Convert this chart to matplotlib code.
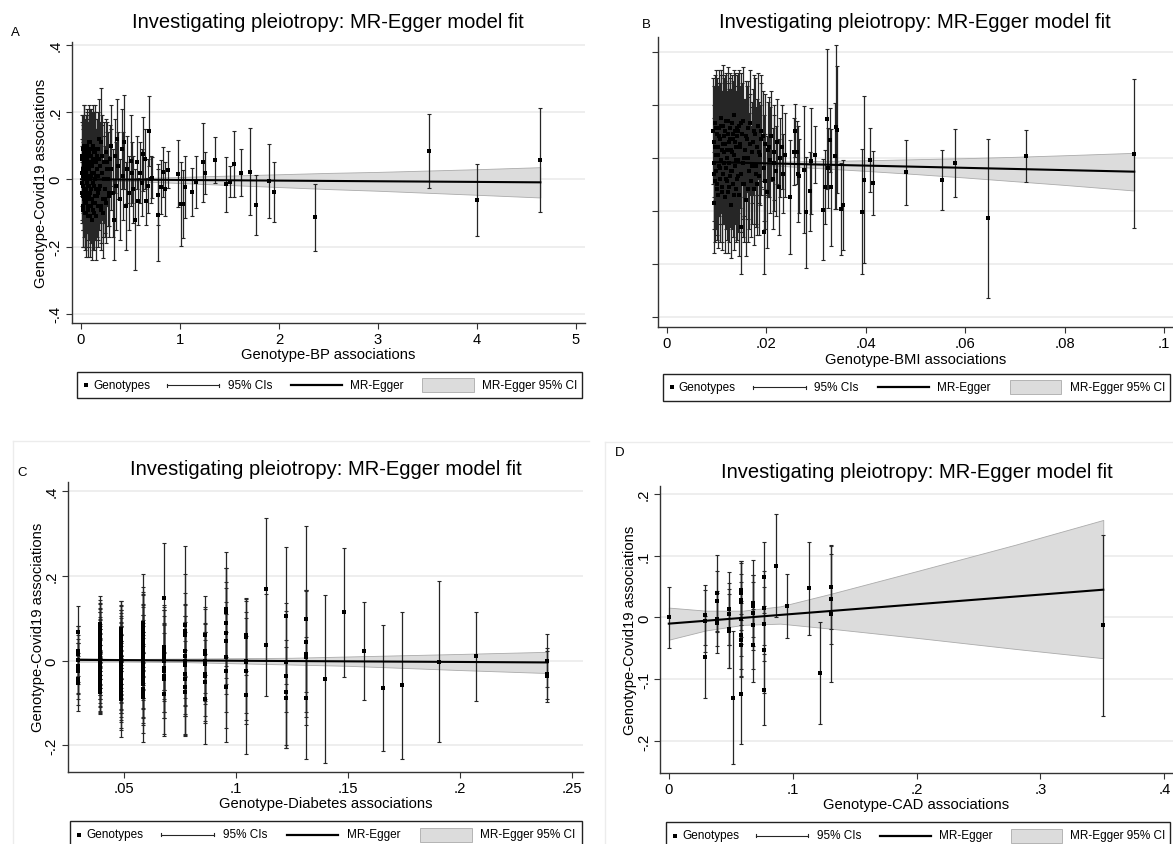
import matplotlib
matplotlib.use('Agg')
import matplotlib.pyplot as plt
from matplotlib.lines import Line2D
from matplotlib.patches import Rectangle

plt.rcParams['font.family'] = ['Liberation Sans', 'DejaVu Sans']

# ---------------- data ----------------
TITLE = "Investigating pleiotropy: MR-Egger model fit"
YLABEL = "Genotype-Covid19 associations"

# Panel A: Genotype-BP associations
bp_x = [0.010,0.012,0.015,0.018,0.020,0.022,0.025,0.028,0.030,0.032,
        0.035,0.038,0.040,0.043,0.046,0.048,0.050,0.053,0.056,0.058,
        0.060,0.063,0.066,0.068,0.070,0.073,0.076,0.079,0.082,0.085,
        0.088,0.090,0.093,0.096,0.099,0.102,0.105,0.108,0.111,0.114,
        0.117,0.120,0.124,0.127,0.130,0.134,0.137,0.140,0.144,0.148,
        0.152,0.155,0.159,0.163,0.167,0.171,0.175,0.180,0.185,0.190,
        0.195,0.200,0.206,0.212,0.218,0.225,0.232,0.240,0.248,0.256,
        0.265,0.275,0.285,0.296,0.308,0.320,0.330,0.342,0.355,0.364,
        0.378,0.392,0.410,0.425,0.434,0.450,0.468,0.485,0.500,0.512,
        0.530,0.550,0.565,0.580,0.600,0.615,0.626,0.645,0.660,0.675,
        0.690,0.705,0.720,
        0.778,0.780,0.811,0.832,0.845,0.879,0.980,1.014,1.034,1.054,
        1.125,1.165,1.232,1.253,1.357,1.465,1.508,1.542,1.612,1.710,
        1.768,1.895,1.950,2.360,3.520,4.000,4.640,
        0.011,0.014,0.017,0.021,0.024,0.027,0.031,0.034,0.037,0.041,
        0.045,0.049,0.052,0.055,0.059,0.062,0.065,0.069,0.072,0.075,
        0.078,0.081,0.084,0.087,0.091,0.094,0.098,0.101,0.106,0.110,
        0.115,0.119,0.123,0.128,0.133,0.138,0.143,0.150,0.157,0.165,
        0.173,0.183,0.193,0.204,0.215,0.228,0.244,0.260,0.280,0.300]
bp_y = [0.02,-0.04,0.06,-0.08,0.01,0.09,-0.02,0.04,0.08,-0.06,
        0.00,0.05,-0.10,0.03,-0.03,0.07,-0.07,0.02,0.10,-0.01,
        -0.05,0.06,-0.09,0.00,0.04,-0.11,0.08,-0.02,0.03,-0.06,
        0.05,-0.04,0.11,-0.08,0.01,0.07,-0.03,-0.12,0.04,0.09,
        -0.01,-0.07,0.06,0.02,-0.10,0.08,-0.05,0.09,0.00,-0.03,
        0.05,-0.11,0.03,0.07,-0.08,0.01,-0.04,0.06,0.12,-0.02,
        0.04,0.11,-0.09,0.02,-0.06,-0.10,0.05,-0.03,0.08,-0.07,
        0.03,0.00,-0.05,0.06,0.10,-0.04,-0.12,0.07,-0.02,0.12,
        0.04,-0.06,0.09,0.01,0.11,-0.08,0.03,-0.04,0.055,0.02,
        -0.03,-0.12,0.05,-0.065,0.02,-0.01,0.075,0.06,-0.065,-0.02,
        0.144,0.00,0.005,
        -0.105,-0.046,-0.024,0.021,-0.029,0.029,0.017,-0.073,-0.073,-0.024,
        -0.037,-0.009,0.050,0.019,0.057,-0.015,-0.007,0.045,0.019,0.023,
        -0.076,-0.005,-0.038,-0.113,0.085,-0.061,0.058,
        -0.01,0.07,-0.05,0.03,-0.09,0.10,-0.03,0.05,-0.07,0.02,
        0.08,-0.04,0.06,-0.10,0.01,-0.06,0.09,-0.02,0.05,-0.08,
        0.03,0.11,-0.05,0.00,0.07,-0.11,0.04,-0.03,0.09,-0.06,
        0.02,0.10,-0.09,0.05,-0.02,0.08,-0.07,0.01,0.06,-0.05,
        0.09,-0.03,0.04,-0.08,0.07,0.00,-0.06,0.05,-0.04,0.03]
bp_half = [0.10,0.09,0.11,0.12,0.14,0.10,0.13,0.09,0.14,0.11,
           0.12,0.10,0.11,0.13,0.09,0.12,0.13,0.10,0.11,0.12,
           0.10,0.13,0.11,0.09,0.12,0.12,0.10,0.14,0.11,0.10,
           0.12,0.13,0.10,0.11,0.14,0.12,0.10,0.12,0.13,0.11,
           0.12,0.14,0.10,0.13,0.11,0.12,0.13,0.13,0.14,0.12,
           0.10,0.13,0.12,0.11,0.12,0.13,0.14,0.10,0.12,0.11,
           0.13,0.16,0.12,0.14,0.11,0.135,0.12,0.13,0.10,0.12,
           0.11,0.14,0.12,0.10,0.12,0.13,0.12,0.11,0.13,0.12,
           0.10,0.12,0.12,0.13,0.14,0.13,0.10,0.11,0.135,0.09,
           0.10,0.15,0.08,0.07,0.09,0.10,0.11,0.09,0.07,0.08,
           0.104,0.07,0.06,
           0.137,0.09,0.08,0.075,0.08,0.055,0.10,0.125,0.10,0.092,
           0.072,0.077,0.118,0.062,0.068,0.082,0.047,0.098,0.07,0.129,
           0.09,0.111,0.09,0.10,0.11,0.106,0.155,
           0.11,0.12,0.10,0.13,0.11,0.12,0.10,0.12,0.13,0.11,
           0.10,0.12,0.11,0.13,0.12,0.10,0.11,0.13,0.12,0.10,
           0.12,0.11,0.13,0.12,0.10,0.12,0.11,0.13,0.12,0.11,
           0.13,0.12,0.11,0.10,0.13,0.12,0.11,0.13,0.12,0.12,
           0.11,0.12,0.13,0.11,0.12,0.13,0.11,0.12,0.10,0.12]
bp_fit_x = [0.0, 4.64]
bp_fit_y = [0.0, -0.009]
bp_band_x = [0.0, 0.5, 1.0, 1.5, 2.0, 2.5, 3.0, 3.5, 4.0, 4.64]
bp_band_hi = [0.005, 0.003, 0.007, 0.011, 0.015, 0.019, 0.022, 0.026, 0.030, 0.036]
bp_band_lo = [-0.005, -0.005, -0.011, -0.017, -0.023, -0.029, -0.034, -0.040, -0.046, -0.054]

# Panel B: Genotype-BMI associations
bmi_x = [0.0093,0.0094,0.0095,0.0095,0.0096,0.0097,0.0098,0.0099,0.0100,0.0101,
         0.0102,0.0103,0.0104,0.0105,0.0106,0.0107,0.0108,0.0109,0.0110,0.0111,
         0.0112,0.0113,0.0114,0.0115,0.0116,0.0117,0.0118,0.0119,0.0120,0.0121,
         0.0122,0.0123,0.0124,0.0125,0.0126,0.0127,0.0128,0.0129,0.0130,0.0131,
         0.0132,0.0133,0.0134,0.0135,0.0136,0.0137,0.0138,0.0139,0.0140,0.0141,
         0.0142,0.0143,0.0144,0.0145,0.0146,0.0148,0.0149,0.0150,0.0152,0.0153,
         0.0155,0.0157,0.0158,0.0160,0.0162,0.0163,0.0165,0.0167,0.0169,0.0171,
         0.0173,0.0175,0.0177,0.0179,0.0181,0.0182,0.0184,0.0186,0.0188,0.0190,
         0.0193,0.0195,0.0196,0.0198,0.0201,0.0204,0.0207,0.0210,0.0213,0.0216,
         0.0219,0.0222,0.0225,0.0228,0.0231,0.0234,0.0237,
         0.0248,0.0256,0.0258,0.0262,0.0264,0.0266,0.0276,0.0279,0.0288,0.0289,
         0.0298,0.0313,0.0317,0.0322,0.0324,0.0327,0.0329,0.0337,0.0340,0.0342,
         0.0351,0.0354,0.0392,0.0396,0.0408,0.0414,0.0480,0.0553,0.0579,0.0645,
         0.0722,0.0940,
         0.0094,0.0096,0.0098,0.0100,0.0102,0.0104,0.0106,0.0108,0.0110,0.0112,
         0.0114,0.0116,0.0118,0.0120,0.0122,0.0124,0.0126,0.0128,0.0130,0.0132,
         0.0134,0.0136,0.0138,0.0140,0.0143,0.0146,0.0149,0.0152,0.0155,0.0159,
         0.0163,0.0167,0.0171,0.0175,0.0180,0.0185,0.0190,0.0197,0.0205,0.0215]
bmi_y = [0.10,-0.02,-0.17,0.06,-0.09,0.13,0.01,-0.05,0.09,-0.12,
         0.04,-0.14,0.11,-0.03,0.07,-0.08,0.15,-0.01,0.03,-0.11,
         0.12,-0.06,0.08,0.02,-0.15,0.05,-0.04,0.14,-0.09,0.00,
         0.09,-0.13,0.06,-0.02,0.11,-0.07,0.03,-0.18,0.13,-0.05,
         0.07,-0.10,0.01,0.16,-0.03,0.10,-0.12,0.04,-0.08,0.08,
         0.10,-0.01,0.12,-0.14,0.05,-0.26,-0.06,0.09,-0.02,0.14,
         -0.10,0.03,-0.16,0.07,0.00,0.11,-0.05,0.13,-0.09,0.02,
         0.06,-0.12,0.09,-0.03,0.04,-0.10,0.12,-0.07,0.01,0.10,
         0.08,-0.04,-0.28,0.05,-0.13,0.03,-0.01,0.08,-0.08,0.02,
         -0.05,0.06,-0.11,0.00,0.04,-0.06,0.01,
         -0.150,0.023,0.102,0.020,-0.062,-0.070,-0.045,-0.206,-0.127,-0.014,
         0.011,-0.196,-0.112,0.145,-0.039,0.067,-0.112,0.005,0.115,0.106,
         -0.194,-0.179,-0.204,-0.083,-0.010,-0.096,-0.055,-0.085,-0.021,-0.228,
         0.005,0.015,
         -0.06,0.04,0.11,-0.10,0.01,0.08,-0.04,0.12,-0.13,0.05,
         -0.02,0.10,-0.08,0.03,0.14,-0.11,0.07,-0.05,0.02,0.09,
         -0.14,0.06,-0.01,0.11,-0.07,0.04,0.13,-0.10,0.00,0.08,
         -0.12,0.05,-0.03,0.10,-0.06,0.02,0.07,-0.09,0.04,-0.02]
bmi_half = [0.20,0.22,0.19,0.21,0.23,0.18,0.20,0.22,0.21,0.19,
            0.23,0.20,0.22,0.19,0.21,0.24,0.18,0.20,0.22,0.21,
            0.23,0.19,0.22,0.20,0.21,0.24,0.20,0.18,0.22,0.21,
            0.19,0.23,0.20,0.22,0.21,0.19,0.23,0.20,0.18,0.22,
            0.21,0.20,0.23,0.17,0.22,0.22,0.20,0.21,0.23,0.19,
            0.22,0.20,0.21,0.23,0.20,0.18,0.22,0.19,0.21,0.20,
            0.22,0.19,0.21,0.20,0.23,0.18,0.22,0.20,0.21,0.19,
            0.20,0.21,0.21,0.22,0.18,0.19,0.20,0.22,0.19,0.21,
            0.17,0.20,0.16,0.19,0.21,0.18,0.20,0.17,0.19,0.18,
            0.17,0.16,0.18,0.15,0.16,0.15,0.16,
            0.215,0.127,0.10,0.12,0.18,0.14,0.24,0.21,0.15,0.20,
            0.108,0.19,0.14,0.265,0.15,0.12,0.22,0.20,0.31,0.24,
            0.175,0.17,0.235,0.316,0.121,0.12,0.123,0.114,0.129,0.30,
            0.098,0.28,
            0.21,0.20,0.22,0.19,0.23,0.20,0.21,0.19,0.22,0.20,
            0.23,0.21,0.19,0.22,0.20,0.21,0.23,0.19,0.22,0.20,
            0.21,0.19,0.22,0.20,0.21,0.23,0.19,0.20,0.22,0.21,
            0.20,0.19,0.22,0.21,0.20,0.19,0.21,0.18,0.19,0.18]
bmi_fit_x = [0.0093, 0.094]
bmi_fit_y = [-0.017, -0.053]
bmi_band_x = [0.0093, 0.015, 0.02, 0.03, 0.04, 0.05, 0.06, 0.07, 0.08, 0.094]
bmi_band_hi = [-0.009, -0.014, -0.016, -0.013, -0.010, -0.006, -0.002, 0.003, 0.009, 0.018]
bmi_band_lo = [-0.025, -0.024, -0.028, -0.039, -0.050, -0.062, -0.075, -0.089, -0.103, -0.124]

# Panel C: Genotype-Diabetes associations (discrete exposure levels)
diab_levels = [0.0296, 0.0392, 0.0488, 0.0583, 0.0677, 0.0770, 0.0862, 0.0953, 0.1044, 0.1133,
               0.1222, 0.1310, 0.1398, 0.1484, 0.1570, 0.1655, 0.1740, 0.1906, 0.2070, 0.2390]
diab_y = [
    [0.067, 0.023, 0.016, 0.002, -0.012, -0.018, -0.024, -0.043, -0.053],
    [0.087,0.081,0.076,0.070,0.066,0.059,0.055,0.048,0.044,0.037,0.031,0.027,0.020,0.016,0.010,
     0.004,0.000,-0.006,-0.011,-0.016,-0.022,-0.027,-0.033,-0.039,-0.044,-0.050,-0.056,-0.061,-0.068,-0.075],
    [0.075,0.070,0.064,0.058,0.052,0.047,0.041,0.035,0.030,0.024,0.018,0.013,0.007,0.002,-0.004,
     -0.010,-0.015,-0.021,-0.027,-0.032,-0.038,-0.044,-0.050,-0.055,-0.061,-0.067,-0.072,-0.078,-0.085,-0.090],
    [0.090,0.084,0.078,0.070,0.062,0.055,0.046,0.037,0.028,0.020,0.012,0.004,-0.004,-0.012,-0.021,
     -0.030,-0.038,-0.047,-0.056,-0.066,-0.076,-0.086],
    [0.149,0.032,0.025,0.016,0.008,0.000,-0.016,-0.025,-0.035,-0.043,-0.079],
    [0.085,0.070,0.061,0.023,0.012,0.000,-0.010,-0.031,-0.043,-0.063,-0.075],
    [0.060,0.023,0.016,0.000,-0.008,-0.031,-0.037,-0.050,-0.091],
    [0.122,0.114,0.089,0.065,0.047,0.008,-0.024,-0.063],
    [0.061,0.057,0.000,-0.004,-0.024,-0.081],
    [0.169,0.037],
    [0.106,-0.002,-0.035,-0.075,-0.087],
    [0.098,0.045,0.016,0.008,-0.087],
    [-0.043],
    [0.114],
    [0.023],
    [-0.065],
    [-0.058],
    [-0.002],
    [0.010],
    [0.000,-0.031,-0.037],
]
diab_half = [
    [0.063, 0.060, 0.066, 0.058, 0.064, 0.060, 0.066, 0.062, 0.065],
    [0.066,0.062,0.060,0.064,0.058,0.063,0.061,0.066,0.059,0.062,0.065,0.060,0.063,0.058,0.066,
     0.061,0.064,0.059,0.062,0.065,0.060,0.063,0.058,0.061,0.064,0.060,0.062,0.059,0.056,0.051],
    [0.065,0.070,0.066,0.074,0.068,0.072,0.065,0.078,0.070,0.066,0.074,0.069,0.072,0.080,0.067,
     0.071,0.075,0.068,0.073,0.066,0.079,0.070,0.074,0.068,0.072,0.077,0.069,0.085,0.075,0.090],
    [0.115,0.090,0.080,0.085,0.100,0.078,0.082,0.095,0.080,0.088,0.078,0.092,0.085,0.080,0.090,
     0.083,0.098,0.086,0.090,0.085,0.095,0.107],
    [0.129,0.100,0.095,0.110,0.098,0.120,0.105,0.110,0.100,0.130,0.098],
    [0.120,0.200,0.100,0.110,0.120,0.105,0.115,0.100,0.134,0.110,0.100],
    [0.093,0.100,0.110,0.090,0.095,0.100,0.105,0.098,0.106],
    [0.135,0.105,0.130,0.120,0.125,0.130,0.135,0.130],
    [0.085,0.090,0.140,0.120,0.125,0.139],
    [0.167,0.120],
    [0.162,0.120,0.172,0.125,0.120],
    [0.219,0.120,0.150,0.160,0.144],
    [0.199],
    [0.153],
    [0.115],
    [0.149],
    [0.173],
    [0.191],
    [0.105],
    [0.063,0.060,0.061],
]
diab_fit_x = [0.0296, 0.239]
diab_fit_y = [0.002, -0.004]
diab_band_x = [0.0296, 0.05, 0.075, 0.1, 0.125, 0.15, 0.175, 0.2, 0.239]
diab_band_hi = [0.006, 0.004, 0.005, 0.006, 0.007, 0.010, 0.013, 0.016, 0.021]
diab_band_lo = [-0.002, -0.002, -0.003, -0.006, -0.009, -0.012, -0.017, -0.022, -0.029]

# Panel D: Genotype-CAD associations
cad_levels = [0.0, 0.0296, 0.0392, 0.0488, 0.0517, 0.0583, 0.0677, 0.0770, 0.0862, 0.0953,
              0.1133, 0.1222, 0.1310, 0.3507]
cad_y = [[0.0], [0.004, -0.006, -0.064], [0.040, 0.026, -0.002, -0.009],
         [0.014, 0.006, -0.018, -0.022], [-0.130],
         [0.044, 0.039, 0.028, 0.025, -0.002, -0.029, -0.037, -0.045, -0.124],
         [0.023, 0.019, 0.008, -0.013, -0.045], [0.065, 0.016, -0.011, -0.052, -0.117],
         [0.084], [0.018], [0.047], [-0.090], [0.050, 0.030, 0.006], [-0.013]]
cad_half = [[0.0495], [0.049, 0.050, 0.067], [0.062, 0.050, 0.045, 0.049],
            [0.059, 0.050, 0.064, 0.060], [0.108],
            [0.048, 0.052, 0.060, 0.045, 0.060, 0.055, 0.060, 0.050, 0.081],
            [0.070, 0.050, 0.060, 0.070, 0.059], [0.057, 0.060, 0.060, 0.070, 0.057],
            [0.083], [0.052], [0.075], [0.082], [0.068, 0.073, 0.110], [0.146]]
cad_fit_x = [0.0, 0.3507]
cad_fit_y = [-0.010, 0.045]
cad_band_x = [0.0, 0.03, 0.06, 0.09, 0.13, 0.2, 0.28, 0.3507]
cad_band_hi = [0.016, 0.011, 0.011, 0.018, 0.038, 0.075, 0.118, 0.158]
cad_band_lo = [-0.036, -0.021, -0.012, -0.010, -0.018, -0.033, -0.051, -0.066]


def flatten(levels, ys, hs):
    fx_, fy_, fh_ = [], [], []
    for lv, yy, hh in zip(levels, ys, hs):
        for a, b in zip(yy, hh):
            fx_.append(lv); fy_.append(a); fh_.append(b)
    return fx_, fy_, fh_

diab_x, diab_yf, diab_hf = flatten(diab_levels, diab_y, diab_half)
cad_x, cad_yf, cad_hf = flatten(cad_levels, cad_y, cad_half)

# ---------------- figure ----------------
W, H = 1173, 845
fig = plt.figure(figsize=(W / 100, H / 100), dpi=100)
fig.patch.set_facecolor('white')


def fxp(px):
    return px / W


def fyp(py):
    return 1 - py / H


def make_ax(l, t, r, b):
    return fig.add_axes([fxp(l), fyp(b), (r - l) / W, (b - t) / H])


AX = '#333333'


def panel(ax, xs, ys, hs, fit_x, fit_y, bx, blo, bhi, xlim, ylim,
          xticks, xtl, yticks, ytl, xlabel, ylabel):
    ax.set_xlim(*xlim)
    ax.set_ylim(*ylim)
    for yt in yticks:
        ax.axhline(yt, color='#e9e9e9', lw=1.1, zorder=0)
    ax.fill_between(bx, blo, bhi, facecolor='#dcdcdc', edgecolor='#ababab',
                    lw=0.6, zorder=1)
    ax.errorbar(xs, ys, yerr=hs, fmt='none', ecolor='#262626', elinewidth=0.9,
                capsize=1.6, capthick=0.8, zorder=2)
    ax.plot(xs, ys, 's', color='black', ms=2.9, mew=0, zorder=3)
    ax.plot(fit_x, fit_y, color='black', lw=1.5, zorder=4)
    for s in ['top', 'right']:
        ax.spines[s].set_visible(False)
    for s in ['left', 'bottom']:
        ax.spines[s].set_color(AX)
        ax.spines[s].set_linewidth(1.0)
    ax.set_xticks(xticks)
    ax.set_xticklabels(xtl, fontsize=10.6)
    ax.set_yticks(yticks)
    ax.set_yticklabels(ytl, fontsize=10.6, rotation=90, va='center')
    ax.tick_params(direction='out', length=4, width=0.8, color=AX, pad=2.5)
    ax.set_xlabel(xlabel, fontsize=10.6, labelpad=1)
    if ylabel:
        ax.set_ylabel(ylabel, fontsize=10.6, labelpad=0)
    ax.set_facecolor('white')


def legend(l, t, r, b):
    w = r - l
    cy = (t + b) / 2
    tr = fig.transFigure
    fig.add_artist(Rectangle((fxp(l), fyp(b)), w / W, (b - t) / H, transform=tr,
                             facecolor='white', edgecolor='#222222', lw=1.0, zorder=5))
    fig.add_artist(Line2D([fxp(l + 0.018 * w)], [fyp(cy)], marker='s', ms=2.9, mew=0,
                          color='black', ls='none', transform=tr, zorder=6))
    fig.text(fxp(l + 0.032 * w), fyp(cy), 'Genotypes', ha='left', va='center', fontsize=8.5, zorder=6)
    x1, x2 = l + 0.179 * w, l + 0.282 * w
    fig.add_artist(Line2D([fxp(x1), fxp(x2)], [fyp(cy)] * 2, color='#262626', lw=0.8,
                          transform=tr, zorder=6))
    for xx in (x1, x2):
        fig.add_artist(Line2D([fxp(xx), fxp(xx)], [fyp(cy - 1.5), fyp(cy + 1.5)], color='#262626',
                              lw=0.8, transform=tr, zorder=6))
    fig.text(fxp(l + 0.299 * w), fyp(cy), '95% CIs', ha='left', va='center', fontsize=8.5, zorder=6)
    fig.add_artist(Line2D([fxp(l + 0.424 * w), fxp(l + 0.525 * w)], [fyp(cy)] * 2, color='black',
                          lw=1.6, transform=tr, zorder=6))
    fig.text(fxp(l + 0.541 * w), fyp(cy), 'MR-Egger', ha='left', va='center', fontsize=8.5, zorder=6)
    fig.add_artist(Rectangle((fxp(l + 0.684 * w), fyp(cy + 7)), 0.102 * w / W, 14 / H, transform=tr,
                             facecolor='#dcdcdc', edgecolor='#ababab', lw=0.6, zorder=6))
    fig.text(fxp(l + 0.802 * w), fyp(cy), 'MR-Egger 95% CI', ha='left', va='center', fontsize=8.5, zorder=6)


# faint graph-region outlines (panels C and D)
for (x0, y0, x1) in [(13, 442, 589), (605, 443, 1173)]:
    fig.add_artist(Line2D([fxp(x0), fxp(x1)], [fyp(y0)] * 2, color='#ececec', lw=1.0,
                          transform=fig.transFigure))
    fig.add_artist(Line2D([fxp(x0), fxp(x0)], [fyp(y0), fyp(845)], color='#ececec', lw=1.0,
                          transform=fig.transFigure))

# Panel A
axA = make_ax(71.5, 43, 585, 324)
panel(axA, bp_x, bp_y, bp_half, bp_fit_x, bp_fit_y, bp_band_x, bp_band_lo, bp_band_hi,
      (-0.096, 5.091), (-0.427, 0.408), [0, 1, 2, 3, 4, 5], ['0', '1', '2', '3', '4', '5'],
      [-0.4, -0.2, 0, 0.2, 0.4], ['-.4', '-.2', '0', '.2', '.4'],
      'Genotype-BP associations', YLABEL)
fig.text(fxp(328), fyp(22), TITLE, ha='center', va='center', fontsize=14.5)
fig.text(fxp(15), fyp(33), 'A', ha='center', va='center', fontsize=9.5)
legend(77, 373, 581.5, 399)

# Panel B
axB = make_ax(657.7, 38, 1173, 328.3)
panel(axB, bmi_x, bmi_y, bmi_half, bmi_fit_x, bmi_fit_y, bmi_band_x, bmi_band_lo, bmi_band_hi,
      (-0.00187, 0.1018), (-0.640, 0.455), [0, 0.02, 0.04, 0.06, 0.08, 0.1],
      ['0', '.02', '.04', '.06', '.08', '.1'],
      [-0.6, -0.4, -0.2, 0, 0.2, 0.4], ['', '', '', '', '', ''],
      'Genotype-BMI associations', None)
fig.text(fxp(915), fyp(23), TITLE, ha='center', va='center', fontsize=14.5)
fig.text(fxp(646), fyp(25), 'B', ha='center', va='center', fontsize=9.5)
legend(662.5, 375, 1170, 401.7)

# Panel C
axC = make_ax(67.7, 483, 583.4, 772.7)
panel(axC, diab_x, diab_yf, diab_hf, diab_fit_x, diab_fit_y, diab_band_x, diab_band_lo, diab_band_hi,
      (0.0248, 0.2551), (-0.262, 0.422), [0.05, 0.1, 0.15, 0.2, 0.25],
      ['.05', '.1', '.15', '.2', '.25'],
      [-0.2, 0, 0.2, 0.4], ['-.2', '0', '.2', '.4'],
      'Genotype-Diabetes associations', YLABEL)
fig.text(fxp(325.5), fyp(470), TITLE, ha='center', va='center', fontsize=14.5)
fig.text(fxp(22.5), fyp(473), 'C', ha='center', va='center', fontsize=9.5)
legend(69.6, 822, 581.5, 849)

# Panel D
axD = make_ax(660, 487, 1173, 774)
panel(axD, cad_x, cad_yf, cad_hf, cad_fit_x, cad_fit_y, cad_band_x, cad_band_lo, cad_band_hi,
      (-0.0071, 0.407), (-0.252, 0.213), [0, 0.1, 0.2, 0.3, 0.4],
      ['0', '.1', '.2', '.3', '.4'],
      [-0.2, -0.1, 0, 0.1, 0.2], ['-.2', '-.1', '0', '.1', '.2'],
      'Genotype-CAD associations', YLABEL)
fig.text(fxp(917), fyp(473), TITLE, ha='center', va='center', fontsize=14.5)
fig.text(fxp(620), fyp(453), 'D', ha='center', va='center', fontsize=9.5)
legend(666, 823, 1170, 850)

fig.savefig('out.png', dpi=100, facecolor='white')
